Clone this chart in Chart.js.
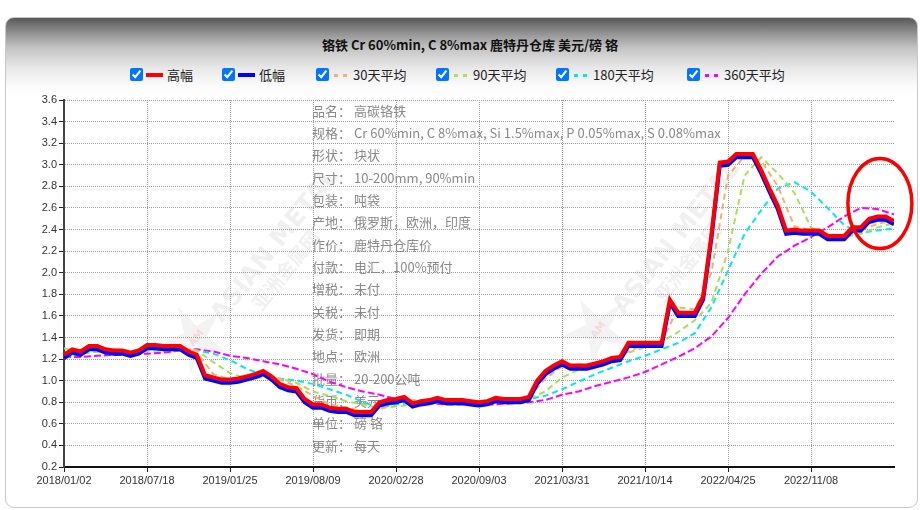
<!DOCTYPE html>
<html>
<head>
<meta charset="utf-8">
<script src="https://cdn.jsdelivr.net/npm/chart.js@4.4.1/dist/chart.umd.min.js"></script>
<style>
html, body { margin: 0; padding: 0; width: 920px; height: 510px; overflow: hidden; background: #fff; font-family: "Noto Sans CJK SC", sans-serif; }
#card { position: absolute; left: 5px; top: 17px; width: 911px; height: 489px; border: 1px solid #c8c8c8; border-radius: 9px;
  background: linear-gradient(to bottom, #585858 0px, #8e8e8e 14px, #c4c4c4 30px, #e8e8e8 50px, #fbfbfb 68px, #fff 80px); }
#title { position: absolute; left: 0; top: 35px; width: 940px; text-align: center; font-weight: bold; font-size: 13px; color: #111; }
.lg { position: absolute; top: 66px; height: 18px; font-size: 13px; color: #222; line-height: 18px; }
.lg input { position: absolute; left: 0; top: 2px; width: 13px; height: 13px; margin: 0; accent-color: #0075ff; }
.lg .smp { position: absolute; left: 16px; top: 7px; width: 17px; height: 4px; }
.lg .smp.dot { left: 18px; width: 13px; height: 3px; top: 8px; }
.lg span { position: absolute; left: 37px; top: 0; white-space: nowrap; }
#c { position: absolute; left: 0; top: 0; }
</style>
</head>
<body>
<div id="card"></div>
<div id="title">铬铁 Cr 60%min, C 8%max 鹿特丹仓库 美元/磅 铬</div>
<div id="legend"></div>
<canvas id="c" width="920" height="510"></canvas>
<script>
// x 轴刻度（每 10 个采样点一个日期）
const tickLabels = ['2018/01/02','2018/07/18','2019/01/25','2019/08/09','2020/02/28','2020/09/03','2021/03/31','2021/10/14','2022/04/25','2022/11/08'];
const yTicks = [0.2,0.4,0.6,0.8,1.0,1.2,1.4,1.6,1.8,2.0,2.2,2.4,2.6,2.8,3.0,3.2,3.4,3.6];

// 高幅 / 低幅，采样点 0..100
const highVals = [1.24,1.29,1.27,1.32,1.32,1.29,1.28,1.28,1.26,1.28,
  1.33,1.33,1.32,1.32,1.32,1.27,1.24,1.05,1.03,1.01,
  1.01,1.02,1.04,1.06,1.09,1.04,0.97,0.94,0.93,0.83,
  0.78,0.78,0.75,0.74,0.74,0.71,0.71,0.71,0.80,0.82,
  0.83,0.85,0.79,0.81,0.82,0.84,0.82,0.82,0.82,0.81,
  0.80,0.81,0.84,0.83,0.83,0.83,0.85,1.00,1.09,1.14,
  1.18,1.14,1.14,1.14,1.16,1.18,1.21,1.22,1.35,1.35,
  1.35,1.35,1.35,1.75,1.63,1.63,1.63,1.78,2.35,3.02,
  3.03,3.10,3.10,3.10,2.95,2.78,2.62,2.39,2.40,2.39,
  2.39,2.39,2.34,2.34,2.34,2.42,2.42,2.50,2.52,2.52,
  2.48];
const lowVals = [1.21,1.26,1.24,1.29,1.29,1.26,1.25,1.25,1.23,1.25,
  1.30,1.30,1.29,1.29,1.29,1.24,1.21,1.02,1.00,0.98,
  0.98,0.99,1.01,1.03,1.06,1.01,0.94,0.91,0.90,0.80,
  0.75,0.75,0.72,0.71,0.71,0.68,0.68,0.68,0.77,0.79,
  0.80,0.82,0.76,0.78,0.79,0.81,0.79,0.79,0.79,0.78,
  0.77,0.78,0.81,0.80,0.80,0.80,0.82,0.97,1.06,1.11,
  1.15,1.11,1.11,1.11,1.13,1.15,1.18,1.19,1.32,1.32,
  1.32,1.32,1.32,1.72,1.60,1.60,1.60,1.75,2.32,2.99,
  3.00,3.07,3.07,3.07,2.92,2.75,2.59,2.36,2.37,2.36,
  2.36,2.36,2.31,2.31,2.31,2.39,2.39,2.47,2.49,2.49,
  2.45];

// 均线，每 2 个采样点一个值
const avg30 = [1.24,1.27,1.30,1.29,1.27,1.30,1.32,1.32,1.26,1.06,
  1.01,1.03,1.07,1.01,0.95,0.86,0.78,0.75,0.72,0.73,
  0.80,0.82,0.81,0.83,0.82,0.81,0.82,0.83,0.84,1.02,
  1.13,1.15,1.15,1.19,1.27,1.34,1.35,1.68,1.66,2.00,
  2.90,3.08,3.04,2.80,2.43,2.39,2.36,2.34,2.40,2.45,
  2.49];
const avg90 = [1.30,1.27,1.27,1.28,1.28,1.28,1.29,1.30,1.28,1.17,
  1.07,1.02,1.03,1.02,0.98,0.90,0.86,0.81,0.78,0.745,
  0.76,0.78,0.80,0.81,0.81,0.81,0.82,0.82,0.83,0.90,
  1.03,1.10,1.16,1.20,1.26,1.31,1.36,1.45,1.56,1.72,
  2.20,2.90,3.07,2.92,2.74,2.42,2.35,2.33,2.36,2.42,
  2.46];
const avg180 = [1.21,1.25,1.27,1.27,1.27,1.28,1.28,1.28,1.28,1.25,
  1.19,1.11,1.05,1.02,1.00,0.97,0.92,0.87,0.80,0.75,
  0.78,0.79,0.79,0.80,0.80,0.80,0.81,0.82,0.83,0.86,
  0.92,0.99,1.06,1.12,1.18,1.23,1.29,1.35,1.44,1.68,
  2.02,2.36,2.58,2.78,2.84,2.75,2.60,2.44,2.37,2.39,
  2.41];
const avg360 = [1.22,1.22,1.23,1.24,1.24,1.25,1.26,1.28,1.29,1.27,
  1.23,1.21,1.18,1.15,1.11,1.06,0.99,0.94,0.90,0.87,
  0.83,0.81,0.79,0.78,0.78,0.78,0.78,0.79,0.80,0.82,
  0.87,0.90,0.95,0.99,1.03,1.08,1.15,1.22,1.30,1.41,
  1.58,1.80,1.99,2.15,2.25,2.33,2.42,2.52,2.60,2.59,
  2.54];

const seriesNames = ['高幅','低幅','30天平均','90天平均','180天平均','360天平均'];
const seriesColors = ['#ff0000','#0000ff','#f5b070','#a8e05a','#00e8f0','#ff00ff'];

const infoLabels = ['品名：','规格：','形状：','尺寸：','包装：','产地：','作价：','付款：','增税：','关税：','发货：','地点：','批量：','货币：','单位：','更新：'];
const infoValues = ['高碳铬铁','Cr 60%min, C 8%max, Si 1.5%max, P 0.05%max, S 0.08%max','块状','10-200mm, 90%min','吨袋',
  '俄罗斯，欧洲，印度','鹿特丹仓库价','电汇，100%预付','未付','未付','即期','欧洲','20-200公吨','美元','磅 铬','每天'];

// legend (html, with checkboxes)
const legendX = [130, 222, 316, 436, 556, 687];
const legend = document.getElementById('legend');
seriesNames.forEach((n, i) => {
  const d = document.createElement('div');
  d.className = 'lg';
  d.style.left = legendX[i] + 'px';
  const dotted = i > 1;
  const bg = dotted
    ? 'repeating-linear-gradient(to right,' + seriesColors[i] + ' 0 4px, transparent 4px 9px)'
    : seriesColors[i];
  d.innerHTML = '<input type="checkbox" checked><div class="smp' + (dotted ? ' dot' : '') + '" style="background:' + bg + '"></div><span>' + n + '</span>';
  legend.appendChild(d);
});

const full = arr => arr.map((v, i) => ({x: i, y: v}));
const half = arr => arr.map((v, i) => ({x: i * 2, y: v}));

const bgPlugin = {
  id: 'info',
  beforeDatasetsDraw(chart) {
    const {ctx, scales: {x}, chartArea} = chart;
    ctx.save();
    // watermarks
    [[195, 338], [597, 330]].forEach(([cx, cy]) => {
      ctx.save();
      ctx.translate(cx, cy);
      ctx.fillStyle = 'rgba(150,150,150,0.11)';
      ctx.beginPath();
      for (let k = 0; k < 10; k++) {
        const r = k % 2 ? 12 : 36;
        const a = -Math.PI / 2 + k * Math.PI / 5 - 0.5;
        ctx.lineTo(Math.cos(a) * r, Math.sin(a) * r);
      }
      ctx.closePath();
      ctx.fill();
      ctx.rotate(-0.9);
      ctx.fillStyle = 'rgba(230,80,80,0.16)';
      ctx.font = 'bold 10px "DejaVu Sans"';
      ctx.fillText('AM', -8, 4);
      ctx.fillStyle = 'rgba(140,140,140,0.13)';
      ctx.font = 'bold 25px "DejaVu Sans"';
      ctx.fillText('ASIAN METAL', 28, 12);
      ctx.font = 'bold 19px "Noto Sans CJK SC"';
      ctx.fillText('亚洲金属网', 62, 36);
      ctx.restore();
    });
    // info text
    ctx.font = '13px "Noto Sans CJK SC"';
    ctx.fillStyle = '#8a8a8a';
    ctx.textBaseline = 'middle';
    const lx = x.getPixelForValue(30) - 1;
    infoLabels.forEach((l, i) => {
      const yy = chartArea.top + 10.7 + i * 22.33;
      ctx.fillText(l, lx, yy);
      ctx.fillText(infoValues[i], lx + 42, yy);
    });
    ctx.restore();
  },
  afterDraw(chart) {
    const {ctx, scales: {x, y}} = chart;
    ctx.save();
    ctx.strokeStyle = '#ff0000';
    ctx.lineWidth = 3.5;
    ctx.beginPath();
    ctx.ellipse(x.getPixelForValue(98.3), y.getPixelForValue(2.64), 32, 45, 0, 0, Math.PI * 2);
    ctx.stroke();
    ctx.restore();
  }
};

const lineDs = (i, data, w, dash) => ({
  label: seriesNames[i], data, borderColor: seriesColors[i], borderWidth: w,
  borderDash: dash, pointRadius: 0, tension: 0, fill: false
});

new Chart(document.getElementById('c'), {
  type: 'line',
  data: {
    datasets: [
      lineDs(0, full(highVals), 4, []),
      lineDs(1, full(lowVals), 4, []),
      lineDs(2, half(avg30), 2, [6, 4]),
      lineDs(3, half(avg90), 2, [6, 4]),
      lineDs(4, half(avg180), 2, [6, 4]),
      lineDs(5, half(avg360), 2, [7, 3])
    ]
  },
  plugins: [bgPlugin],
  options: {
    responsive: false,
    animation: false,
    devicePixelRatio: 1,
    layout: { padding: { top: 100, right: 26, left: 0, bottom: 0 } },
    plugins: { legend: { display: false }, tooltip: { enabled: false } },
    scales: {
      x: {
        type: 'linear', min: 0, max: 100,
        afterBuildTicks: s => { s.ticks = tickLabels.map((_, i) => ({ value: i * 10 })); },
        afterFit: s => { s.height = 43; },
        ticks: { callback: v => tickLabels[Math.round(v / 10)], maxRotation: 0, autoSkip: false, padding: 2,
          color: '#333', font: { family: '"Liberation Sans", Arial', size: 11 } },
        grid: { color: '#9a9a9a', tickColor: '#222', tickLength: 5, lineWidth: 1 },
        border: { display: true, color: '#111', width: 2, dash: [1, 1] }
      },
      y: {
        min: 0.2, max: 3.6,
        afterBuildTicks: s => { s.ticks = yTicks.map(v => ({ value: v })); },
        afterFit: s => { s.width = 64; },
        ticks: { callback: v => v.toFixed(1), padding: 2,
          color: '#333', font: { family: '"Liberation Sans", Arial', size: 11 } },
        grid: { color: '#9a9a9a', tickColor: '#222', tickLength: 5, lineWidth: 1 },
        border: { display: true, color: '#444', width: 2, dash: [1, 1] }
      }
    }
  }
});
</script>
</body>
</html>
